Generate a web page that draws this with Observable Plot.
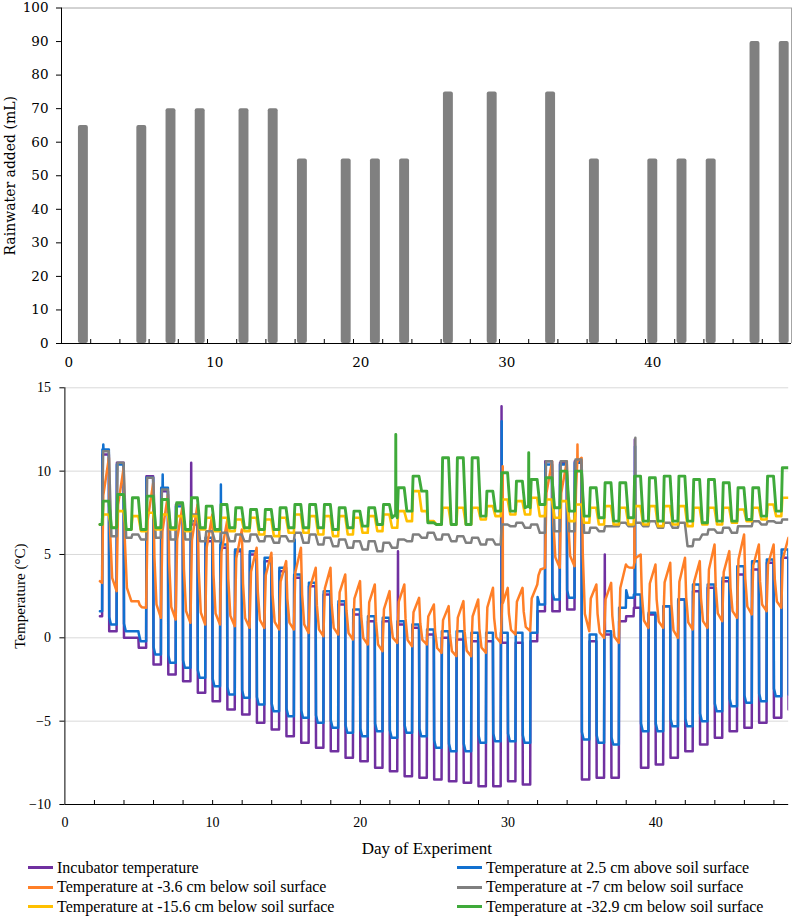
<!DOCTYPE html>
<html><head><meta charset="utf-8">
<script src="https://cdn.jsdelivr.net/npm/d3@7"></script>
<script src="https://cdn.jsdelivr.net/npm/@observablehq/plot@0.6"></script>
<style>
html,body{margin:0;padding:0;background:#fff;}
#wrap{position:relative;width:796px;height:920px;overflow:hidden;background:#fff;}
#wrap svg{display:block}
.legend{position:absolute;left:0;top:858px;width:796px;height:62px;font-family:"Liberation Serif",serif;font-size:16px;color:#000;}
.item{position:absolute;display:flex;align-items:center;height:19.5px;white-space:nowrap}
.sw{width:25px;height:3px;margin-right:4px}
</style></head><body><div id="wrap"></div>
<script>
// ---------- Rainwater bars ----------
const rainDays = [1,5,7,9,12,14,16,19,21,23,26,29,33,36,40,42,44,47,49];
const rainML   = [65,65,70,70,70,70,55,55,55,55,75,75,75,55,55,55,55,90,90];
const rainYTicks = [0,10,20,30,40,50,60,70,80,90,100];
const rainXLabels = [0,10,20,30,40];
const rainXTickMarks = [1.5,3.5,5.5,7.5,9.5,11.5,13.5,15.5,17.5,19.5,21.5,23.5,25.5,27.5,29.5,31.5,33.5,35.5,37.5,39.5,41.5,43.5,45.5,47.5];

// ---------- Temperature series: one value per cold half-day (d..d+0.5) and warm half-day (d+0.5..d+1) ----------
const cycleDay = [2,3,4,5,6,7,8,9,10,11,12,13,14,15,16,17,18,19,20,21,22,23,24,25,26,27,28,29,30,31,32,33,34,35,36,37,38,39,40,41,42,43,44,45,46,47,48];
const seriesStart = 2.37, firstRise = 2.52;

const incubatorCold = [1.3,0.4,0.0,-0.6,-1.6,-2.2,-2.6,-3.3,-3.8,-4.3,
  -4.6,-5.1,-5.5,-5.9,-6.3,-6.6,-6.8,-7.2,-7.4,-7.8,
  -8.0,-8.3,-8.4,-8.5,-8.6,-8.7,-8.9,-8.9,-8.6,-8.8,
  1.6,1.6,1.7,-8.5,-8.4,-8.4,1.3,-7.8,-7.6,-7.2,
  -6.8,-6.4,-6.0,-5.6,-5.4,-5.1,-4.8];
const incubatorWarm = [11.0,10.5,0.0,9.7,8.8,8.0,6.8,5.8,5.4,5.2,
  5.0,4.6,4.0,3.6,3.1,2.6,2.0,1.4,1.0,1.0,
  0.8,0.6,0.2,0.0,-0.1,-0.2,-0.2,-0.3,-0.3,-0.2,
  10.6,10.5,10.6,-0.2,0.2,1.0,1.8,1.4,1.9,2.3,
  2.8,3.0,3.4,3.8,4.1,4.5,4.8];
const incubatorSpikes = [[8.55,6.8,10.5],[22.55,0.8,5.2],[29.56,-0.3,13.9],[36.55,0.2,5.0],[38.58,1.8,11.9]];
const incubatorEnd = -4.3;

const aboveCold = [1.6,0.8,0.4,-0.2,-1.0,-1.5,-1.8,-2.4,-2.9,-3.4,
  -3.6,-4.0,-4.4,-4.7,-4.8,-5.1,-5.4,-5.7,-5.9,-5.6,
  -6.0,-5.7,-5.9,-6.6,-6.8,-6.8,-6.3,-6.2,-6.2,-6.3,
  2.0,2.3,2.4,-6.1,-6.3,-6.4,2.4,-5.6,-5.6,-5.3,
  -5.3,-5.0,-4.4,-4.1,-3.9,-3.8,-3.5];
const aboveWarm = [11.3,10.4,0.4,9.6,9.0,7.9,7.0,6.0,5.6,5.3,
  5.2,4.8,4.2,3.8,3.3,2.8,2.2,1.7,1.3,1.2,
  1.0,0.8,0.5,0.4,0.4,0.3,0.3,0.3,0.3,0.3,
  10.4,10.4,10.5,0.2,0.4,1.8,2.6,1.5,1.9,2.3,
  3.2,3.2,3.6,4.3,4.6,4.7,5.3];
const aboveSpikes = [[2.6,11.3,11.6],[6.62,9.0,9.8],[10.56,5.6,9.2],[15.56,3.8,5.9],[29.57,0.3,13.0],[38.6,2.6,11.5]];
const aboveEnd = -3.4;

const soil36Trough = [3.3,2.8,2.2,1.8,1.2,1.1,0.9,0.8,0.8,0.7,
  0.6,0.6,0.5,0.5,0.3,0.1,0.2,-0.1,-0.4,-0.8,
  -0.3,-0.5,-0.4,-0.9,-1.1,-1.1,-0.9,-0.3,0.2,0.4,
  4.2,4.2,4.3,0.4,0.0,-0.3,4.2,0.6,0.6,0.0,
  0.5,0.6,1.0,1.2,1.4,1.6,1.8];
const soil36Peak = [10.8,10.2,2.2,9.3,8.6,8.0,8.0,7.4,7.0,6.5,
  5.4,5.1,4.6,5.4,4.2,4.2,3.8,3.4,3.2,2.8,
  3.2,2.4,2.0,1.9,2.2,2.3,3.0,3.0,3.0,3.2,
  10.6,10.6,10.8,3.2,3.3,4.4,5.0,4.4,4.5,4.8,
  4.6,5.6,5.2,6.2,5.6,5.6,6.0];
const soil36Spikes = [[29.64,2.1,10.3],[34.7,10.6,11.6],[38.56,4.5,8.0]];

const soil7Cold = [6.8,6.1,6.0,5.9,6.0,5.9,5.9,5.8,5.8,5.8,
  5.8,5.8,5.7,5.8,5.7,5.6,5.5,5.4,5.3,5.2,
  5.4,5.8,6.0,5.9,5.8,5.7,5.6,5.6,6.7,6.6,
  6.3,6.4,6.4,6.3,6.4,6.7,6.7,6.7,6.6,6.6,
  5.5,6.2,6.3,6.3,6.7,6.8,6.9];
const soil7Warm = [11.2,10.5,6.2,9.6,8.9,8.0,7.4,6.4,6.3,6.2,
  6.2,6.1,6.1,6.3,6.2,6.0,5.9,5.8,5.8,5.7,
  5.9,6.2,6.3,6.2,6.1,6.0,5.9,6.8,6.9,6.8,
  10.6,10.6,10.7,6.6,6.7,6.9,6.9,7.0,6.9,6.9,
  5.9,6.5,6.6,6.7,7.0,7.0,7.1];
const soil7Spikes = [[38.62,6.9,12.0]];

const soil156Cold = [6.8,6.6,6.5,6.4,6.5,6.5,6.4,6.5,6.4,6.4,
  6.4,6.2,6.1,6.3,6.3,6.2,6.1,6.2,6.3,6.4,
  6.6,7.0,7.6,6.8,6.8,6.8,7.1,7.3,7.4,7.4,
  7.3,7.2,7.0,6.9,6.8,6.8,6.8,6.8,6.7,6.8,
  6.7,6.8,6.8,6.9,7.0,7.1,7.3];
const soil156Warm = [7.4,7.6,7.3,7.5,7.4,7.3,7.3,7.2,7.2,7.1,
  7.2,7.1,7.2,7.4,7.3,7.3,7.3,7.2,7.3,7.4,
  7.6,8.8,7.0,7.8,7.8,7.8,7.9,8.3,8.2,8.4,
  8.3,8.2,8.0,7.8,7.9,7.8,7.9,7.9,7.9,7.9,
  7.8,7.8,7.8,7.7,7.8,8.0,8.4];
const soil156Spikes = [];

const soil329Cold = [6.8,6.6,6.5,6.5,6.6,6.6,6.5,6.6,6.5,6.6,
  6.6,6.5,6.5,6.6,6.6,6.6,6.5,6.6,6.7,6.8,
  7.2,7.6,8.8,6.8,6.8,6.8,7.3,7.6,7.6,7.8,
  8.0,7.8,7.6,7.3,7.2,7.0,7.2,7.0,7.0,7.0,
  7.0,6.9,7.0,7.0,7.1,7.3,7.6];
const soil329Warm = [8.2,8.6,8.4,8.5,8.3,8.1,8.4,7.9,8.0,7.8,
  7.7,7.7,7.8,8.0,8.0,8.0,7.8,7.6,7.8,8.0,
  9.0,9.7,6.9,10.8,10.8,10.8,8.8,9.9,9.4,9.5,
  9.6,10.0,10.0,9.0,9.3,9.3,9.7,9.6,9.7,9.7,
  9.5,9.5,9.3,9.0,9.0,9.7,10.2];
const soil329Spikes = [[22.4,7.4,12.2],[31.4,7.9,11.1]];

const tempTicks = [-10,-5,0,5,10,15];
const dayLabels = [0,10,20,30,40];
const dayTickMarks = [2,4,6,8,10,12,14,16,18,20,22,24,26,28,30,32,34,36,38,40,42,44,46,48];

const seriesNames = ["Incubator temperature","Temperature at 2.5 cm above soil surface","Temperature at -3.6 cm below soil surface","Temperature at -7 cm below soil surface","Temperature at -15.6 cm below soil surface","Temperature at -32.9 cm below soil surface"];
const seriesColors = ["#7030a0","#1170cf","#ff7f27","#7f7f7f","#ffc000","#3faa3a"];
const seriesWidths = [2.5, 2.5, 2.5, 2.5, 2.6, 2.9];

// ---------- build paths from the per-half-day readings ----------
function addSpikes(pts, spikes) {
  for (const [t, base, peak] of spikes) pts.push([t - 0.012, base], [t, peak], [t + 0.012, base]);
  return pts.sort((a, b) => a[0] - b[0]);
}
function squarePath(cold, warm, endVal, blueShape) {
  const pts = [];
  cycleDay.forEach((d, i) => {
    const t0 = i === 0 ? seriesStart : d;
    const rise = i === 0 ? firstRise : d + 0.5;
    if (blueShape && i > 0) pts.push([t0, cold[i] + 0.45], [t0 + 0.12, cold[i]]);
    else pts.push([t0, cold[i]]);
    pts.push([rise, cold[i]], [rise + 0.02, warm[i]], [d + 0.975, warm[i]]);
  });
  pts.push([48.99, endVal], [49, endVal]);
  return pts;
}
function soilPath(trough, peak) {
  const pts = [];
  cycleDay.forEach((d, i) => {
    const tr = trough[i], pk = peak[i];
    if (i === 0) pts.push([seriesStart, 3.4], [firstRise, tr]);
    else {
      const p0 = peak[i - 1];
      pts.push([d + 0.06, tr + 0.45 * (p0 - tr)], [d + 0.2, tr + 0.1 * (p0 - tr)], [d + 0.5, tr]);
    }
    pts.push([d + 0.6, tr + 0.7 * (pk - tr)], [d + 0.98, pk]);
  });
  pts.push([49, peak[peak.length - 1]]);
  return pts;
}
function deepPath(cold, warm) {
  const pts = [];
  cycleDay.forEach((d, i) => {
    if (i === 0) pts.push([seriesStart, cold[i]]);
    else pts.push([d + 0.15, cold[i]]);
    const rise = i === 0 ? firstRise : d + 0.5;
    pts.push([rise, cold[i]], [rise + 0.07, warm[i]], [d + 0.97, warm[i]]);
  });
  pts.push([49, warm[warm.length - 1]]);
  return pts;
}
const paths = [
  addSpikes(squarePath(incubatorCold, incubatorWarm, incubatorEnd, false), incubatorSpikes),
  addSpikes(squarePath(aboveCold, aboveWarm, aboveEnd, true), aboveSpikes),
  addSpikes(soilPath(soil36Trough, soil36Peak), soil36Spikes),
  addSpikes(deepPath(soil7Cold, soil7Warm), soil7Spikes),
  addSpikes(deepPath(soil156Cold, soil156Warm), soil156Spikes),
  addSpikes(deepPath(soil329Cold, soil329Warm), soil329Spikes)
];

// ---------- top chart ----------
const rain = rainDays.map((d, i) => ({day: d, ml: rainML[i]}));
const topChart = Plot.plot({
  width: 796, height: 370,
  marginTop: 7.5, marginBottom: 27, marginLeft: 61, marginRight: 5,
  style: {fontFamily: "'DejaVu Serif', serif", fontSize: "13.5px", color: "#000", background: "#fff"},
  x: {domain: [-0.5, 49.5]},
  y: {domain: [0, 100]},
  marks: [
    Plot.ruleY([100], {stroke: "#a6a6a6"}),
    Plot.ruleX([49.5], {stroke: "#a6a6a6"}),
    Plot.rect(rain, {x1: d => d.day - 0.34, x2: d => d.day + 0.34, y1: 0, y2: "ml", fill: "#808080", rx: 2}),
    Plot.ruleX([-0.5], {stroke: "#000"}),
    Plot.ruleY([0], {stroke: "#000"}),
    Plot.axisY({ticks: rainYTicks, tickSize: 5, tickPadding: 8, label: null, fontSize: 13.5}),
    Plot.axisX({ticks: rainXTickMarks, tickSize: 4, dy: -4, tickFormat: () => "", label: null}),
    Plot.axisX({ticks: rainXLabels, tickSize: 0, tickPadding: 14, label: null, fontSize: 13.5}),
    Plot.text(["Rainwater added (mL)"], {text: d => d, frameAnchor: "left", textAnchor: "middle", lineAnchor: "middle", rotate: -90, dx: -51, fontSize: 14})
  ]
});

// ---------- bottom chart ----------
const lineMarks = paths.map((p, k) => Plot.line(p, {x: d => d[0], y: d => d[1], stroke: seriesColors[k], strokeWidth: seriesWidths[k], clip: true}));
const bottomChart = Plot.plot({
  width: 796, height: 488,
  marginTop: 17.3, marginBottom: 54, marginLeft: 64.4, marginRight: 7.8,
  style: {fontFamily: "'Liberation Serif', serif", fontSize: "14px", color: "#000", background: "#fff"},
  x: {domain: [0, 49]},
  y: {domain: [-10, 15]},
  marks: [
    Plot.gridY(tempTicks.filter(v => v > -10), {stroke: "#d9d9d9", strokeOpacity: 1}),
    ...lineMarks,
    Plot.ruleX([0], {stroke: "#000"}),
    Plot.ruleY([-10], {stroke: "#000"}),
    Plot.axisY({ticks: tempTicks, tickSize: 5, tickPadding: 9, label: null, fontSize: 14}),
    Plot.axisX({ticks: dayTickMarks, tickSize: 4, dy: -4, tickFormat: () => "", label: null}),
    Plot.axisX({ticks: dayLabels, tickSize: 0, tickPadding: 13, label: null, fontSize: 14}),
    Plot.text(["Temperature (°C)"], {text: d => d, frameAnchor: "left", textAnchor: "middle", lineAnchor: "middle", rotate: -90, dx: -45, fontSize: 15}),
    Plot.text(["Day of Experiment"], {text: d => d, frameAnchor: "bottom", textAnchor: "middle", lineAnchor: "middle", dy: 44, fontSize: 17})
  ]
});

const wrap = document.getElementById("wrap");
wrap.appendChild(topChart);
wrap.appendChild(bottomChart);

// ---------- legend ----------
const legend = document.createElement("div");
legend.className = "legend";
const legendLeft = [28, 457];
seriesNames.forEach((name, k) => {
  const item = document.createElement("div");
  item.className = "item";
  item.style.left = legendLeft[k % 2] + "px";
  item.style.top = (Math.floor(k / 2) * 19.5) + "px";
  const sw = document.createElement("span");
  sw.className = "sw";
  sw.style.background = seriesColors[k];
  const tx = document.createElement("span");
  tx.textContent = name;
  item.appendChild(sw); item.appendChild(tx);
  legend.appendChild(item);
});
wrap.appendChild(legend);
</script></body></html>
